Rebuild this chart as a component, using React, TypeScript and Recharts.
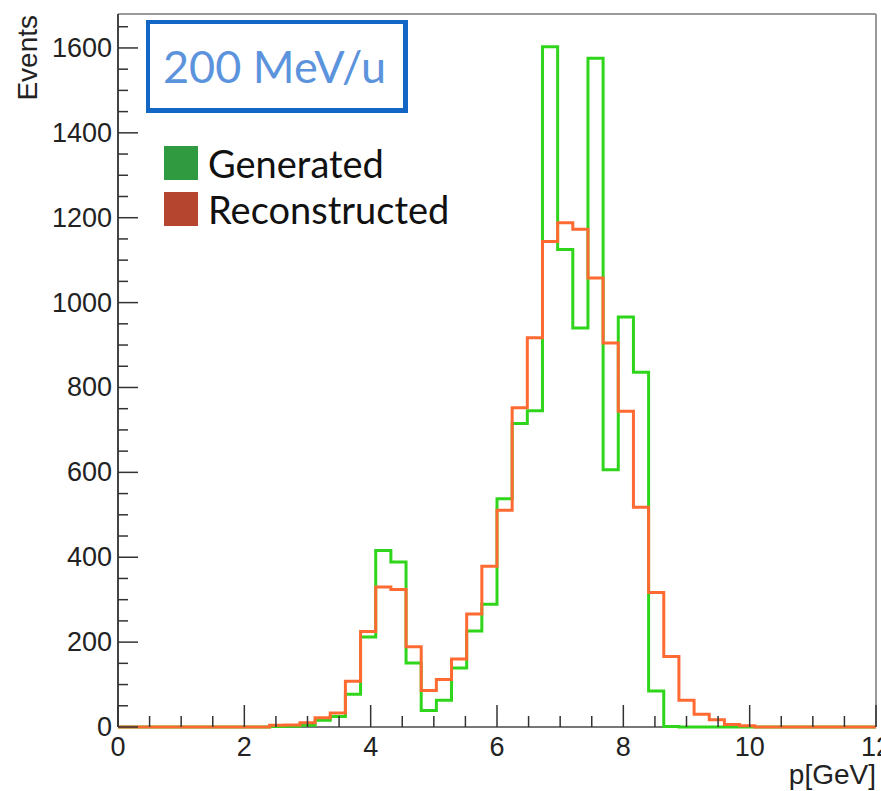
import React from 'react';
import { ComposedChart, Line, XAxis, YAxis, ReferenceLine, Label } from 'recharts';

// 50 bins from 0 to 12 GeV (bin width 0.24 GeV)
const X_MIN = 0;
const X_MAX = 12;
const N_BINS = 50;

const generated = [
  0, 0, 0, 0, 0, 0, 0, 0, 0, 0,
  1, 2, 4, 16, 25, 77, 212, 416, 389, 151,
  39, 63, 139, 226, 289, 538, 715, 745, 1603, 1125,
  940, 1576, 606, 966, 836, 85, 1, 0, 0, 0,
  0, 0, 0, 0, 0, 0, 0, 0, 0, 0,
];

const reconstructed = [
  0, 0, 0, 0, 0, 0, 0, 0, 0, 0,
  4, 5, 10, 22, 33, 108, 225, 330, 324, 189,
  86, 112, 160, 266, 379, 511, 752, 917, 1144, 1188,
  1173, 1058, 905, 744, 518, 317, 166, 63, 30, 17,
  6, 3, 0, 0, 0, 0, 0, 0, 0, 0,
];

const xTicks = [0, 0.5, 1, 1.5, 2, 2.5, 3, 3.5, 4, 4.5, 5, 5.5, 6, 6.5, 7, 7.5, 8, 8.5, 9, 9.5, 10, 10.5, 11, 11.5, 12];
const yTicks = [0, 50, 100, 150, 200, 250, 300, 350, 400, 450, 500, 550, 600, 650, 700, 750, 800, 850, 900, 950, 1000, 1050, 1100, 1150, 1200, 1250, 1300, 1350, 1400, 1450, 1500, 1550, 1600, 1650];
const Y_MAX = 1680;

const seriesNames = ['Generated', 'Reconstructed'];
const legendColors = ['#2f9a3f', '#b5452f'];
const lineColors = ['#2fd51b', '#ff6a33'];
const annotation = '200 MeV/u';

const data = Array.from({ length: N_BINS + 1 }, (_, i) => ({
  x: X_MIN + (i * (X_MAX - X_MIN)) / N_BINS,
  gen: generated[Math.min(i, N_BINS - 1)],
  rec: reconstructed[Math.min(i, N_BINS - 1)],
}));

const AXIS_FONT = '"Liberation Sans", Arial, Helvetica, sans-serif';

const YTick = (props: any) => {
  const { x, y, payload } = props;
  const v = payload.value;
  const major = v % 200 === 0;
  const ax = x + 6;
  return (
    <g>
      <line x1={ax} x2={ax + (major ? 20 : 10)} y1={y} y2={y} stroke="#333" strokeWidth={1.5} />
      {major && (
        <text x={x} y={y} textAnchor="end" dominantBaseline="central" fontFamily={AXIS_FONT} fontSize={27} fill="#222">
          {v}
        </text>
      )}
    </g>
  );
};

const XTick = (props: any) => {
  const { x, y, payload } = props;
  const v = payload.value;
  const major = Math.abs(v % 2) < 1e-9;
  const ay = y - 8;
  return (
    <g>
      <line x1={x} x2={x} y1={ay} y2={ay - (major ? 22 : 11)} stroke="#333" strokeWidth={1.5} />
      {major && (
        <text x={x} y={ay + 29} textAnchor="middle" fontFamily={AXIS_FONT} fontSize={27} fill="#222">
          {v}
        </text>
      )}
    </g>
  );
};

export default function App() {
  return (
    <div style={{ position: 'absolute', left: 0, top: 0, width: 881, height: 791, background: '#fff', overflow: 'hidden' }}>
      <ComposedChart width={881} height={791} data={data} margin={{ top: 14, right: 5, bottom: 24, left: 58 }}>
        <XAxis
          dataKey="x"
          type="number"
          domain={[X_MIN, X_MAX]}
          ticks={xTicks}
          interval={0}
          tickSize={0}
          tickMargin={8}
          tickLine={false}
          tick={<XTick />}
          axisLine={false}
          height={40}
        >
          <Label
            content={(p: any) => {
              const vb = p.viewBox;
              return (
                <text x={vb.x + vb.width} y={vb.y + vb.height + 17} textAnchor="end" fontFamily={AXIS_FONT} fontSize={28} fill="#222">
                  p[GeV]
                </text>
              );
            }}
          />
        </XAxis>
        <YAxis
          type="number"
          domain={[0, Y_MAX]}
          ticks={yTicks}
          interval={0}
          tickSize={0}
          tickMargin={6}
          tickLine={false}
          tick={<YTick />}
          axisLine={{ stroke: '#444', strokeWidth: 2 }}
          width={60}
        >
          <Label
            content={(p: any) => {
              const vb = p.viewBox;
              const tx = vb.x - 21;
              const ty = vb.y + 1;
              return (
                <text x={tx} y={ty} transform={`rotate(-90 ${tx} ${ty})`} textAnchor="end" fontFamily={AXIS_FONT} fontSize={28} fill="#222">
                  Events
                </text>
              );
            }}
          />
        </YAxis>
        <ReferenceLine y={0} stroke="#777" strokeWidth={2} />
        <ReferenceLine y={Y_MAX} stroke="#999" strokeWidth={2} />
        <ReferenceLine x={X_MAX} stroke="#999" strokeWidth={2} />
        <Line
          type="stepAfter"
          dataKey="gen"
          name={seriesNames[0]}
          stroke={lineColors[0]}
          strokeWidth={3}
          dot={false}
          activeDot={false}
          isAnimationActive={false}
        />
        <Line
          type="stepAfter"
          dataKey="rec"
          name={seriesNames[1]}
          stroke={lineColors[1]}
          strokeWidth={3}
          dot={false}
          activeDot={false}
          isAnimationActive={false}
        />
      </ComposedChart>

      {/* annotation box */}
      <div
        style={{
          position: 'absolute',
          left: 146,
          top: 20,
          width: 240,
          height: 84,
          border: '5px solid #1366c4',
          borderTopWidth: 4,
          borderLeftWidth: 4,
          display: 'flex',
          alignItems: 'center',
          paddingLeft: 13,
          boxSizing: 'content-box',
          fontFamily: 'Lato, "Open Sans", sans-serif',
          fontSize: 45,
          color: '#5b93dc',
          whiteSpace: 'nowrap',
        }}
      >
        {annotation}
      </div>

      {/* legend */}
      <div style={{ position: 'absolute', left: 164, top: 140, fontFamily: 'Lato, "Open Sans", sans-serif', fontSize: 38, color: '#111' }}>
        {seriesNames.map((n, i) => (
          <div key={n} style={{ display: 'flex', alignItems: 'center', height: 46 }}>
            <div style={{ width: 34, height: 34, background: legendColors[i], marginRight: 10 }} />
            <span>{n}</span>
          </div>
        ))}
      </div>
    </div>
  );
}
